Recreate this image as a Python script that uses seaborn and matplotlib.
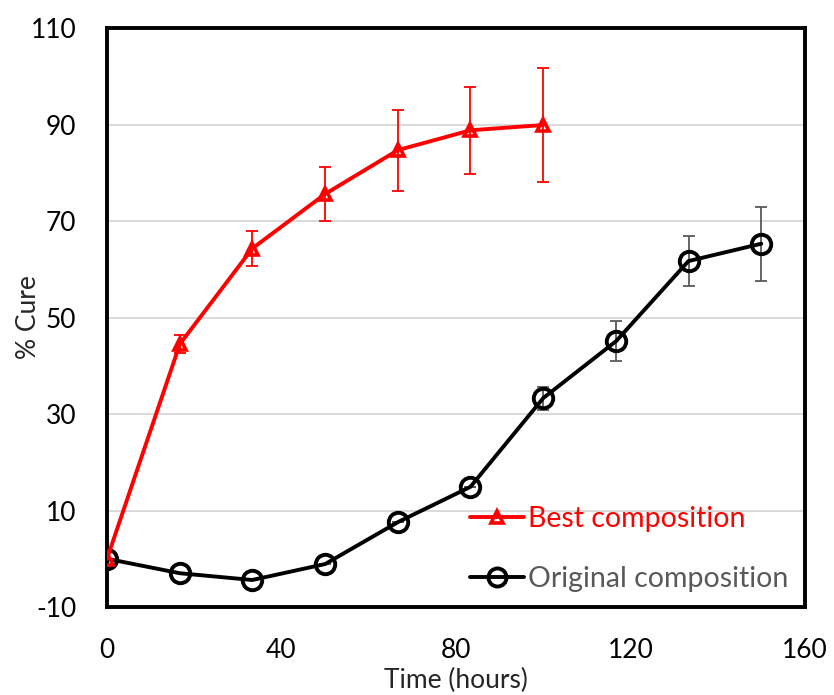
import matplotlib
matplotlib.use("Agg")
import matplotlib.pyplot as plt
import seaborn as sns
import pandas as pd
from matplotlib.lines import Line2D

# Data
best_time = [0, 16.7, 33.3, 50, 66.7, 83.3, 100]
best_cure = [0, 44.5, 64.3, 75.6, 84.7, 88.8, 89.9]
best_err = [0, 1.8, 3.7, 5.6, 8.4, 9.0, 11.8]

orig_time = [0, 16.7, 33.3, 50, 66.7, 83.3, 100, 116.7, 133.3, 150]
orig_cure = [0, -3.0, -4.4, -1.1, 7.6, 14.9, 33.3, 45.1, 61.7, 65.3]
orig_err = [0, 0, 0, 0, 0, 0, 2.4, 4.2, 5.1, 7.7]

x_ticks = [0, 40, 80, 120, 160]
y_ticks = [-10, 10, 30, 50, 70, 90, 110]

sns.set_theme(style="white")
plt.rcParams['font.family'] = ['Lato', 'DejaVu Sans']
plt.rcParams['axes.unicode_minus'] = False

fig = plt.figure(figsize=(8.34, 6.95), dpi=100)
ax = fig.add_axes([0.1283, 0.1266, 0.8369, 0.8331])

for y in [10, 30, 50, 70, 90]:
    ax.axhline(y, color="#d9d9d9", lw=1.4, zorder=0)

df_b = pd.DataFrame({"t": best_time, "c": best_cure})
df_o = pd.DataFrame({"t": orig_time, "c": orig_cure})

ax.errorbar(orig_time, orig_cure, yerr=orig_err, fmt="none", ecolor="#595959",
            elinewidth=1.3, capsize=4.5, capthick=1.3, zorder=2)
sns.lineplot(data=df_o, x="t", y="c", ax=ax, color="black", lw=2.8,
             marker="o", markersize=14, markerfacecolor="none",
             markeredgecolor="black", markeredgewidth=2.8, zorder=3)
ax.errorbar(best_time, best_cure, yerr=best_err, fmt="none", ecolor="red",
            elinewidth=1.3, capsize=4.5, capthick=1.3, zorder=4)
sns.lineplot(data=df_b, x="t", y="c", ax=ax, color="red", lw=2.8,
             marker="^", markersize=9, markerfacecolor="none",
             markeredgecolor="red", markeredgewidth=2.6, zorder=5)

ax.set_xlim(0, 160)
ax.set_ylim(-10, 110)
ax.set_xticks(x_ticks)
ax.set_yticks(y_ticks)
ax.tick_params(axis="both", direction="in", length=7, width=1.4, colors="black",
               labelsize=19)
ax.tick_params(axis="y", pad=22)
ax.tick_params(axis="x", pad=22)
for s in ax.spines.values():
    s.set_linewidth(2.8)
    s.set_color("black")

ax.set_xlabel("Time (hours)", fontsize=19)
ax.set_ylabel("% Cure", fontsize=19)
ax.xaxis.set_label_coords(0.5, -0.106)
ax.yaxis.set_label_coords(-0.095, 0.5)

handles = [
    Line2D([], [], color="red", lw=2.8, marker="^", markersize=9,
           markerfacecolor="none", markeredgecolor="red", markeredgewidth=2.6),
    Line2D([], [], color="black", lw=2.8, marker="o", markersize=13,
           markerfacecolor="none", markeredgecolor="black", markeredgewidth=2.8),
]
leg = ax.legend(handles, ["Best composition", "Original composition"],
                loc="lower left", bbox_to_anchor=(0.487, -0.014), frameon=False,
                fontsize=20.5, handlelength=1.9, handletextpad=0.15,
                labelspacing=1.2, borderaxespad=0.4)
for txt, col in zip(leg.get_texts(), ["red", "#595959"]):
    txt.set_color(col)

fig.savefig("out.png", dpi=100)
